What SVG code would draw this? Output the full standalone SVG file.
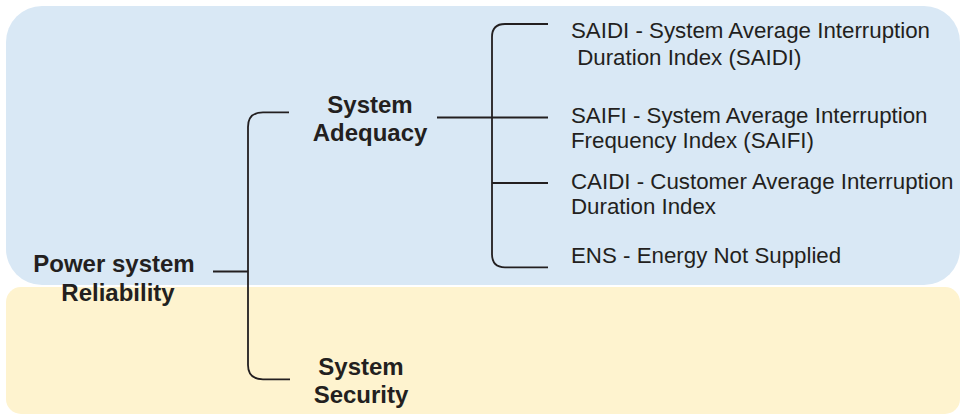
<svg xmlns="http://www.w3.org/2000/svg" width="963" height="415" viewBox="0 0 963 415">
<style>
.bold{font-family:"Liberation Sans",Arial,sans-serif;font-weight:bold;font-size:24px;fill:#231f20;text-anchor:middle}
.reg{font-family:"Liberation Sans",Arial,sans-serif;font-size:22.3px;fill:#231f20}
.ln{fill:none;stroke:#231f20;stroke-width:1.8}
</style>
<g id="bands">
<rect x="6" y="6" width="954" height="279" rx="36" ry="36" fill="#d9e8f5"/>
<rect x="6" y="287" width="954" height="127" rx="15" ry="15" fill="#fef3cf"/>
</g>
<g id="connectors">
<path class="ln" d="M213,271.5 H248"/>
<path class="ln" d="M289,112.3 H263 Q248,112.3 248,127 V365 Q248,379.3 263,379.3 H290"/>
<path class="ln" d="M437,117.5 H548"/>
<path class="ln" d="M548,24 H505 Q492,24 492,37 V254 Q492,267.3 505,267.3 H548"/>
<path class="ln" d="M492,183 H548"/>
</g>
<g id="node-reliability">
<text class="bold" x="114" y="272">Power system</text>
<text class="bold" x="118" y="301">Reliability</text>
</g>
<g id="node-adequacy">
<text class="bold" x="370" y="113">System</text>
<text class="bold" x="370" y="141">Adequacy</text>
</g>
<g id="node-security">
<text class="bold" x="361" y="375">System</text>
<text class="bold" x="361" y="403">Security</text>
</g>
<g id="node-saidi">
<text class="reg" x="571" y="38">SAIDI - System Average Interruption</text>
<text class="reg" x="571" y="65" xml:space="preserve"> Duration Index (SAIDI)</text>
</g>
<g id="node-saifi">
<text class="reg" x="571" y="123">SAIFI - System Average Interruption</text>
<text class="reg" x="571" y="148">Frequency Index (SAIFI)</text>
</g>
<g id="node-caidi">
<text class="reg" x="571" y="189">CAIDI - Customer Average Interruption</text>
<text class="reg" x="571" y="213.5">Duration Index</text>
</g>
<g id="node-ens">
<text class="reg" x="571" y="263">ENS - Energy Not Supplied</text>
</g>
</svg>
